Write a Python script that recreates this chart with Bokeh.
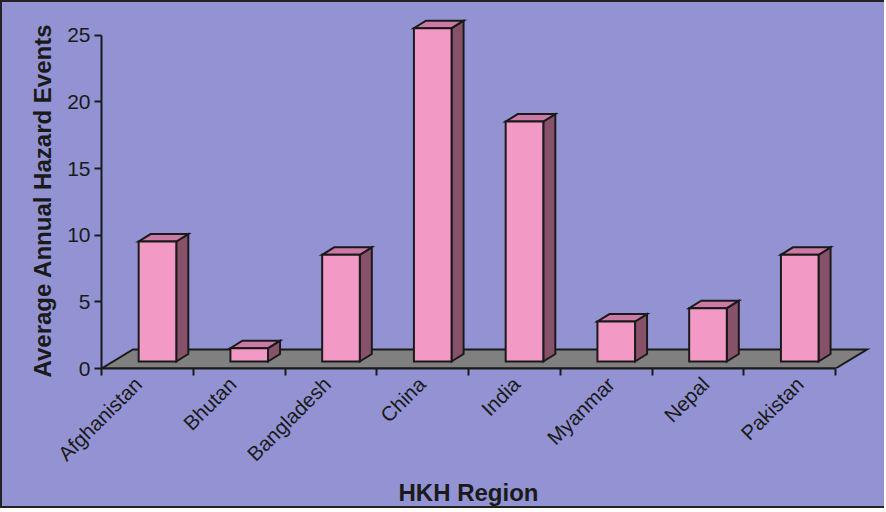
import numpy as np
from bokeh.plotting import figure
from bokeh.models import FixedTicker, Range1d, Title
from bokeh.embed import file_html
from bokeh.resources import INLINE

# ---- data ----
categories = ["Afghanistan", "Bhutan", "Bangladesh", "China", "India", "Myanmar", "Nepal", "Pakistan"]
events = [9, 1, 8, 25, 18, 3, 4, 8]
y_ticks = [0, 5, 10, 15, 20, 25]
x_title = "HKH Region"
y_title = "Average Annual Hazard Events"

# ---- style ----
BG = "#9393D3"
FRONT = "#F29AC5"
TOP = "#CC7AA5"
SIDE = "#865169"
FLOOR = "#808080"
LINE = "#1a1a1a"
FONT = "Liberation Sans"

# 3D geometry (data units)
FLOOR_DX, FLOOR_DY = 0.343, 1.425
BAR_OX, BAR_OY = 0.11, 0.525
BAR_W = 0.41
BAR_DX, BAR_DY = 0.131, 0.56
# label anchors spread slightly wider than the bars (as in the 3D original)
LABEL_SHIFT, LABEL_STEP = -0.102, 1.0305

n = len(categories)
p = figure(width=884, height=508, output_backend="svg", toolbar_location=None,
           x_range=Range1d(0, 8.403), y_range=Range1d(0, 26.25),
           min_border_left=99, min_border_right=14, min_border_top=16, min_border_bottom=142)
p.styles = {"border-top": "2px solid #222", "border-bottom": "2px solid #222",
            "border-left": "2px solid #222", "background-color": BG}
p.background_fill_color = None
p.border_fill_color = None
p.outline_line_color = None
p.xgrid.grid_line_color = None
p.ygrid.grid_line_color = None

# floor
p.patch([0, n, n + FLOOR_DX, FLOOR_DX], [0, 0, FLOOR_DY, FLOOR_DY],
        fill_color=FLOOR, line_color=LINE, line_width=2, line_join="miter")

centers = np.arange(n) + 0.5
x0 = centers + BAR_OX - BAR_W / 2
x1 = x0 + BAR_W
yb = BAR_OY
yt = BAR_OY + np.array(events, dtype=float)

front_xs = [[a, b, b, a] for a, b in zip(x0, x1)]
front_ys = [[yb, yb, t, t] for t in yt]
top_xs = [[a, b, b + BAR_DX, a + BAR_DX] for a, b in zip(x0, x1)]
top_ys = [[t, t, t + BAR_DY, t + BAR_DY] for t in yt]
side_xs = [[b, b + BAR_DX, b + BAR_DX, b] for b in x1]
side_ys = [[yb, yb + BAR_DY, t + BAR_DY, t] for t in yt]

for xs, ys, c in [(side_xs, side_ys, SIDE), (top_xs, top_ys, TOP), (front_xs, front_ys, FRONT)]:
    p.patches(xs, ys, fill_color=c, line_color=LINE, line_width=2, line_join="miter")

# x axis
label_pos = [round(0.5 + LABEL_SHIFT + i * LABEL_STEP, 4) for i in range(n)]
xa = p.xaxis[0]
xa.ticker = FixedTicker(ticks=label_pos, minor_ticks=list(range(n + 1)))
xa.major_label_overrides = {pos: cat for pos, cat in zip(label_pos, categories)}
xa.major_label_orientation = np.pi / 4
xa.bounds = (0, n)
xa.major_tick_line_color = None
xa.major_tick_out = 0
xa.major_tick_in = 0
xa.minor_tick_out = 7
xa.minor_tick_in = 0
xa.minor_tick_line_width = 2
xa.minor_tick_line_color = LINE
xa.axis_line_width = 2
xa.axis_line_color = LINE
xa.major_label_text_font = FONT
xa.major_label_text_font_size = "20.5px"
xa.major_label_text_color = LINE
xa.major_label_standoff = 5

# y axis
ya = p.yaxis[0]
ya.ticker = FixedTicker(ticks=y_ticks)
ya.bounds = (0, 25)
ya.major_tick_out = 7
ya.major_tick_in = 0
ya.major_tick_line_width = 2
ya.major_tick_line_color = LINE
ya.minor_tick_line_color = None
ya.axis_line_width = 2
ya.axis_line_color = LINE
ya.major_label_text_font = FONT
ya.major_label_text_font_size = "21px"
ya.major_label_text_color = LINE
ya.major_label_standoff = 4

# axis titles
p.add_layout(Title(text=x_title, align="left", offset=297, standoff=0,
                   text_font=FONT, text_font_size="24px", text_font_style="bold",
                   text_color=LINE), "below")
p.add_layout(Title(text=y_title, align="left", offset=-9, standoff=18,
                   text_font=FONT, text_font_size="24px", text_font_style="bold",
                   text_color=LINE), "left")

open("out.html", "w").write(file_html(p, INLINE))
